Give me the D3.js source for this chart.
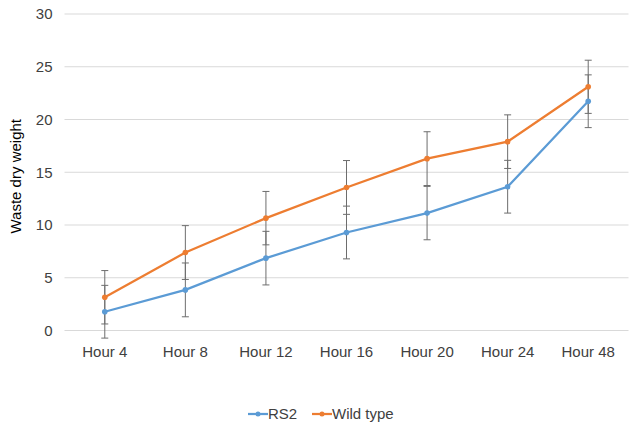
<!DOCTYPE html>
<html>
<head>
<meta charset="utf-8">
<script src="https://cdn.jsdelivr.net/npm/d3@7"></script>
<style>
  body { margin: 0; background: #fff; }
  text { font-family: "Liberation Sans", Arial, sans-serif; }
</style>
</head>
<body>
<svg id="chart" width="638" height="428"></svg>
<script>
// data
const hours = ["Hour 4", "Hour 8", "Hour 12", "Hour 16", "Hour 20", "Hour 24", "Hour 48"];
const rs2 = [1.78, 3.85, 6.86, 9.29, 11.13, 13.63, 21.73];
const rs2Err = [2.5, 2.55, 2.54, 2.5, 2.53, 2.5, 2.5];
const wild = [3.15, 7.39, 10.65, 13.56, 16.29, 17.9, 23.1];
const wildErr = [2.53, 2.55, 2.53, 2.55, 2.55, 2.54, 2.52];
const yTicks = [0, 5, 10, 15, 20, 25, 30];

const series = [
  {name: "RS2", values: rs2, err: rs2Err, color: "#5b9bd5"},
  {name: "Wild type", values: wild, err: wildErr, color: "#ed7d31"}
];

const svg = d3.select("#chart");
const margin = {left: 64.5, right: 9.5, top: 14, bottom: 97.5};
const width = 638 - margin.left - margin.right;
const height = 428 - margin.top - margin.bottom;
const fs = 15;

const g = svg.append("g").attr("transform", `translate(${margin.left},${margin.top})`);

const x = d3.scaleBand().domain(hours).range([0, width]);
const y = d3.scaleLinear().domain([0, 30]).range([height, 0]);

// gridlines
g.selectAll("line.grid")
  .data(yTicks)
  .join("line")
    .attr("class", "grid")
    .attr("x1", 0).attr("x2", width)
    .attr("y1", d => y(d)).attr("y2", d => y(d))
    .attr("stroke", "#d9d9d9")
    .attr("stroke-width", 1);

// y tick labels
g.selectAll("text.ytick")
  .data(yTicks)
  .join("text")
    .attr("class", "ytick")
    .attr("x", -12)
    .attr("y", d => y(d))
    .attr("dy", "0.35em")
    .attr("text-anchor", "end")
    .attr("font-size", fs)
    .attr("fill", "#404040")
    .text(d => d);

// x tick labels
g.selectAll("text.xtick")
  .data(hours)
  .join("text")
    .attr("class", "xtick")
    .attr("x", d => x(d) + x.bandwidth() / 2)
    .attr("y", height + 21)
    .attr("dy", "0.35em")
    .attr("text-anchor", "middle")
    .attr("font-size", fs)
    .attr("fill", "#404040")
    .text(d => d);

// y axis title
svg.append("text")
  .attr("transform", `translate(16,${margin.top + height / 2 + 4}) rotate(-90)`)
  .attr("text-anchor", "middle")
  .attr("dy", "0.35em")
  .attr("font-size", fs)
  .attr("fill", "#000")
  .text("Waste dry weight");

const cx = d => x(d) + x.bandwidth() / 2;
const line = d3.line()
  .x((d, i) => cx(hours[i]))
  .y(d => y(d));

// lines
series.forEach(s => {
  g.append("path")
    .datum(s.values)
    .attr("fill", "none")
    .attr("stroke", s.color)
    .attr("stroke-width", 2.25)
    .attr("d", line);
});

// error bars
series.forEach(s => {
  const eb = g.append("g");
  s.values.forEach((v, i) => {
    const px = cx(hours[i]);
    eb.append("line")
      .attr("x1", px).attr("x2", px)
      .attr("y1", y(v + s.err[i])).attr("y2", y(v - s.err[i]))
      .attr("stroke", "#6d6d6d").attr("stroke-width", 1);
    [v + s.err[i], v - s.err[i]].forEach(e => {
      eb.append("line")
        .attr("x1", px - 3.5).attr("x2", px + 3.5)
        .attr("y1", y(e)).attr("y2", y(e))
        .attr("stroke", "#6d6d6d").attr("stroke-width", 1);
    });
  });
});

// markers
series.forEach(s => {
  g.selectAll(null)
    .data(s.values)
    .join("circle")
      .attr("cx", (d, i) => cx(hours[i]))
      .attr("cy", d => y(d))
      .attr("r", 2.8)
      .attr("fill", s.color);
});

// legend
const legendX = [248, 312];
const legend = svg.append("g");
series.forEach((s, i) => {
  const lx = legendX[i];
  legend.append("line")
    .attr("x1", lx).attr("x2", lx + 20)
    .attr("y1", 414).attr("y2", 414)
    .attr("stroke", s.color).attr("stroke-width", 2.25);
  legend.append("circle")
    .attr("cx", lx + 10).attr("cy", 414).attr("r", 2.5)
    .attr("fill", s.color);
  legend.append("text")
    .attr("x", lx + 20)
    .attr("y", 414)
    .attr("dy", "0.35em")
    .attr("font-size", fs)
    .attr("fill", "#404040")
    .text(s.name);
});
</script>
</body>
</html>
